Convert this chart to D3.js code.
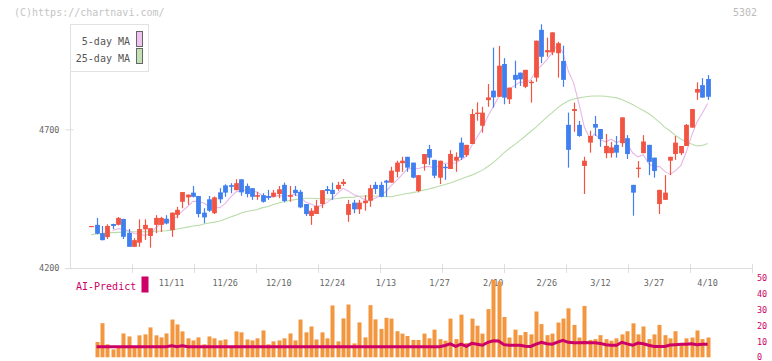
<!DOCTYPE html>
<html><head><meta charset="utf-8">
<script src="https://cdn.jsdelivr.net/npm/d3@7"></script>
<style>
body{margin:0;background:#fff;}
svg{display:block;}
text{font-family:"DejaVu Sans Mono","Liberation Mono",monospace;}
</style>
</head><body>
<svg id="c" width="772" height="361"></svg>
<script>
// ---- data ----
const openP  = [4350,4356,4326,4312,4359,4356,4377,4327,4277,4292,4340,4316,4356,4356,4378,4337,4392,4439,4455,4472,
                4460,4400,4448,4398,4473,4498,4499,4481,4520,4496,4488,4457,4463,4460,4457,4467,4500,4457,4482,4475,
                4431,4388,4395,4431,4485,4482,4485,4503,4392,4436,4412,4434,4443,4500,4500,4515,4508,4547,4578,4601,
                4580,4478,4575,4629,4590,4526,4565,4557,4587,4652,4607,4647,4755,4713,4805,4839,4817,4935,4808,4896,
                4904,4853,4866,4886,5058,4977,4977,4974,4946,4716,4766,4716,4568,4652,4719,4701,4614,4614,4644,4650,
                4668,4500,4557,4614,4644,4598,4431,4446,4587,4611,4614,4640,4706,4832,4859,4881];
const highP  = [4352,4381,4352,4358,4360,4384,4378,4341,4308,4376,4376,4344,4391,4385,4391,4400,4421,4474,4465,4496,
                4460,4416,4460,4458,4488,4502,4506,4520,4520,4505,4488,4475,4470,4482,4482,4496,4508,4496,4496,4482,
                4431,4416,4446,4481,4496,4508,4511,4521,4446,4446,4446,4463,4500,4511,4511,4518,4565,4587,4601,4601,
                4580,4535,4611,4644,4590,4587,4575,4625,4617,4670,4644,4773,4797,4781,4863,4994,5000,4956,4850,4947,
                4904,4914,4877,5019,5078,5030,5049,5015,5001,4760,4796,4730,4601,4695,4748,4701,4683,4655,4676,4743,
                4679,4500,4586,4679,4644,4598,4482,4535,4601,4676,4640,4719,4773,4869,4884,4895];
const lowP   = [4350,4322,4300,4305,4341,4354,4305,4277,4277,4277,4302,4274,4326,4330,4358,4313,4380,4416,4428,4455,
                4383,4362,4403,4395,4434,4457,4470,4480,4461,4455,4446,4446,4436,4446,4455,4452,4437,4439,4460,4416,
                4388,4356,4395,4416,4467,4446,4479,4496,4367,4398,4395,4407,4421,4467,4455,4457,4508,4527,4547,4547,
                4524,4473,4551,4572,4524,4503,4518,4557,4547,4590,4601,4647,4731,4688,4781,4778,4817,4790,4791,4848,
                4856,4848,4796,4871,4938,4961,4967,4886,4853,4562,4691,4673,4467,4616,4676,4637,4596,4598,4598,4637,
                4593,4389,4526,4614,4535,4526,4395,4446,4535,4590,4607,4640,4706,4806,4814,4806];
const closeP = [4352,4324,4301,4352,4352,4381,4313,4277,4301,4341,4356,4344,4381,4381,4361,4400,4410,4474,4465,4457,
                4395,4383,4407,4455,4448,4472,4493,4506,4473,4467,4457,4463,4439,4453,4472,4484,4442,4463,4470,4419,
                4395,4407,4424,4481,4478,4467,4500,4511,4431,4412,4436,4443,4488,4485,4457,4508,4551,4580,4587,4562,
                4526,4535,4611,4598,4533,4587,4560,4611,4601,4598,4644,4755,4760,4760,4815,4815,4929,4814,4850,4878,
                4880,4914,4871,5019,4961,4985,5049,5010,4878,4626,4773,4676,4587,4676,4706,4665,4640,4635,4616,4743,
                4611,4472,4562,4656,4583,4550,4482,4472,4601,4652,4640,4716,4773,4845,4814,4817];
const ma25   = [4321,4323,4325,4327,4328,4329,4330,4331,4331,4331,4331,4331,4333,4334,4335,4337,4341,4345,4348,4352,
                4354,4359,4363,4366,4370,4377,4384,4391,4399,4404,4408,4411,4418,4422,4429,4435,4440,4444,4447,4450,
                4452,4452,4451,4450,4449,4449,4451,4454,4455,4456,4459,4460,4460,4460,4459,4457,4457,4462,4465,4469,
                4472,4476,4481,4485,4490,4496,4501,4507,4514,4521,4528,4535,4544,4553,4566,4580,4597,4615,4631,4645,
                4660,4676,4692,4708,4726,4744,4760,4777,4791,4802,4809,4813,4816,4819,4820,4820,4819,4816,4813,4807,
                4798,4789,4778,4768,4757,4742,4726,4708,4694,4678,4665,4654,4647,4640,4642,4649];
const volume = [null,9.7,21.6,8.2,5.0,6.9,15.1,13.2,6.5,13.9,14.5,18.9,13.9,12.6,15.1,23.9,20.8,16.4,12.0,10.7,
                12.6,8.2,13.2,12.0,10.7,11.3,6.9,16.4,15.8,11.3,10.7,12.0,17.0,8.2,10.1,10.7,12.0,15.1,10.7,23.9,
                15.8,19.5,11.3,15.8,12.0,32.8,10.1,24.6,33.4,8.8,22.1,12.6,33,24,18,25,24.5,16.5,15,13.5,
                11,11,15,12,17.5,11.5,10.5,24.5,11.5,27,9,24.5,20,15,30.5,49,48,25.5,12.5,17.5,
                14,16,14.5,29,21,14,15,22,24.5,31,20.5,12.5,32.5,11,11.5,14,11.5,10.5,12,14.5,
                16.5,21.5,14.5,19.5,11.5,14.5,20.5,14,12,16.5,8,12,12.5,17,11.5,12.5];
const aiPredict = [null,6.7,6.7,6.7,6.7,6.7,6.7,6.7,6.7,6.7,6.7,6.7,6.7,6.7,6.7,7.3,6.7,7.3,6.7,6.7,
                6.7,6.7,6.7,6.7,6.7,6.7,6.7,6.7,6.7,6.7,6.7,6.7,6.7,6.7,6.7,6.7,6.7,6.7,6.7,6.7,
                6.7,6.7,6.7,6.7,6.7,6.7,6.7,6.7,6.7,6.7,6.7,6.7,6.7,6.7,6.7,6.7,6.7,6.7,6.7,6.7,
                6.7,6.7,6.7,6.7,6.7,6.7,7.5,8.5,6.9,8.3,6.9,8.8,8.2,7.6,9.5,10.5,10.3,8.0,7.6,7.6,
                7.6,7.0,6.9,8.3,9.5,8.6,8.3,9.6,10.7,9.5,9.2,9.2,9.4,9.2,9.2,8.8,8.0,7.6,7.6,9.5,
                8.5,7.6,9.0,8.6,7.6,6.9,6.9,6.9,7.8,8.0,8.2,8.2,8.6,8.0,8.2,8.2];
const dateTickIndex = [15,25,35,45,55,65,75,85,95,105,115];
const dateTickLabels = ["11/11","11/26","12/10","12/24","1/13","1/27","2/10","2/26","3/12","3/27","4/10"];
const priceTicks = [4200,4700];
const volumeTicks = [0,10,20,30,40,50];
const legendLabels = ["5-day MA","25-day MA"];

// ---- derived: 5-day moving average of closes ----
const ma5 = closeP.map((c,i)=> i<4 ? null : d3.mean(closeP.slice(i-4,i+1)));

// ---- drawing ----
const svg = d3.select("#c");
const UP="#f25442", DOWN="#3f7ff0", GRID="#dedede", TXT="#666", PINK="#e7b6e7", GREEN="#b9dcaa", CRIM="#cc0066", VOL="#f2963f";

const x  = d3.scaleLinear().domain([0,115]).range([91.2,707.6]);
const y  = d3.scaleLinear().domain([4200,4700]).range([268.2,129.3]);
const yv = d3.scaleLinear().domain([0,50]).range([357.3,278.3]);
const gx = d3.scaleLinear().domain([0,11]).range([70.5,752.5]);

// copyright + code
svg.append("text").attr("x",14).attr("y",16).attr("font-size",10).attr("fill","#c4c4c4").text("(C)https://chartnavi.com/");
svg.append("text").attr("x",757).attr("y",16).attr("font-size",10).attr("fill","#bbb").attr("text-anchor","end").text("5302");

// price axis
const yAxis = d3.axisLeft(y).tickValues(priceTicks).tickSize(5).tickPadding(6).tickFormat(d3.format("d"));
const ga = svg.append("g").attr("transform","translate(70.5,0)").call(yAxis);
ga.select(".domain").remove();
ga.selectAll(".tick line").attr("stroke",GRID).attr("x2",3).attr("x1",-5);
ga.selectAll(".tick text").attr("fill",TXT).attr("font-size",8.5).attr("font-family","DejaVu Sans Mono");
svg.append("line").attr("x1",70.5).attr("x2",70.5).attr("y1",24).attr("y2",268.5).attr("stroke",GRID);
svg.append("line").attr("x1",65).attr("x2",752.5).attr("y1",268.5).attr("y2",268.5).attr("stroke",GRID);
svg.selectAll(".gt").data(d3.range(1,12)).join("line").attr("class","gt")
  .attr("x1",d=>gx(d)).attr("x2",d=>gx(d)).attr("y1",264).attr("y2",273).attr("stroke",GRID);

// date labels
svg.selectAll(".dl").data(dateTickIndex).join("text").attr("class","dl")
  .attr("x",d=>x(d)).attr("y",286).attr("text-anchor","middle").attr("font-size",8.5).attr("fill",TXT)
  .text((d,i)=>dateTickLabels[i]);

// moving averages
const lineGen = d3.line().defined(d=>d!=null).x((d,i)=>x(i)).y(d=>y(d));
svg.append("path").datum(ma25).attr("d",lineGen).attr("fill","none").attr("stroke",GREEN).attr("stroke-width",1.1);
svg.append("path").datum(ma5).attr("d",lineGen).attr("fill","none").attr("stroke",PINK).attr("stroke-width",1.1);

// candles
const idx = d3.range(openP.length);
const cg = svg.append("g");
cg.selectAll(".wk").data(idx).join("line").attr("class","wk")
  .attr("x1",i=>Math.round(x(i))+0.5).attr("x2",i=>Math.round(x(i))+0.5)
  .attr("y1",i=>y(highP[i])).attr("y2",i=>y(lowP[i]))
  .attr("stroke",i=>closeP[i]>=openP[i]?UP:DOWN).attr("stroke-width",1.2);
cg.selectAll(".bd").data(idx).join("rect").attr("class","bd")
  .attr("x",i=>Math.round(x(i))+0.5-2.4).attr("width",4.8)
  .attr("y",i=>y(Math.max(openP[i],closeP[i])))
  .attr("height",i=>Math.max(1.2,Math.abs(y(openP[i])-y(closeP[i]))))
  .attr("fill",i=>closeP[i]>=openP[i]?UP:DOWN);

// legend
svg.append("rect").attr("x",70.5).attr("y",24.5).attr("width",78).attr("height",47).attr("fill","#fff").attr("stroke","#e2e2e2");
legendLabels.forEach((t,k)=>{
  svg.append("text").attr("x",130).attr("y",45+k*16.5).attr("text-anchor","end").attr("font-size",10).attr("fill","#555").text(t);
  svg.append("rect").attr("x",136.5).attr("y",31.5+k*17).attr("width",6).attr("height",15)
    .attr("fill",k===0?"#f0c2f0":"#c2e2b4").attr("stroke","#666");
});

// volume panel
svg.selectAll(".vb").data(idx.filter(i=>volume[i]!=null)).join("rect").attr("class","vb")
  .attr("x",i=>Math.round(x(i))-1.5).attr("width",4)
  .attr("y",i=>yv(volume[i])).attr("height",i=>yv(0)-yv(volume[i])).attr("fill",VOL);
const aiLine = d3.line().defined(d=>d!=null).x((d,i)=>x(i)).y(d=>yv(d));
svg.append("path").datum(aiPredict).attr("d",aiLine).attr("fill","none").attr("stroke",CRIM).attr("stroke-width",3);
svg.selectAll(".vl").data(volumeTicks).join("text").attr("class","vl")
  .attr("x",757).attr("y",d=>yv(d)+3).attr("font-size",8.5).attr("fill",CRIM).text(d=>d);
svg.append("text").attr("x",76).attr("y",290).attr("font-size",10).attr("fill",CRIM).text("AI-Predict");
svg.append("rect").attr("x",141.5).attr("y",276.5).attr("width",7).attr("height",16).attr("fill",CRIM);
</script>
</body></html>
